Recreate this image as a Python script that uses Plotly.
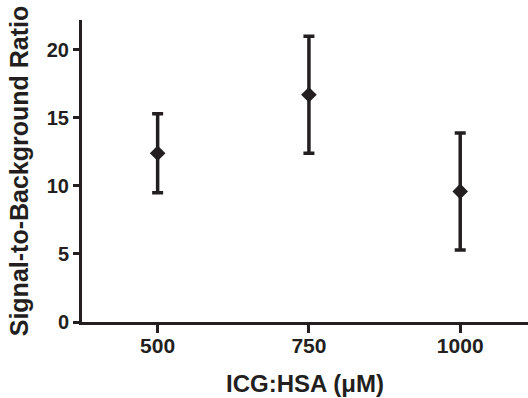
import plotly.graph_objects as go

concentrations = [500, 750, 1000]
sbr_mean = [12.4, 16.7, 9.6]
sbr_err = [2.9, 4.3, 4.3]
x_ticks = [500, 750, 1000]
y_ticks = [0, 5, 10, 15, 20]

ink = "#231f20"
font_family = "Liberation Sans, Arial, Helvetica, sans-serif"

fig = go.Figure(
    go.Scatter(
        x=concentrations,
        y=sbr_mean,
        mode="markers",
        marker=dict(symbol="diamond", size=12, color=ink),
        error_y=dict(type="data", array=sbr_err, visible=True,
                     color=ink, thickness=3.5, width=5.5),
        showlegend=False,
        hoverinfo="skip",
    )
)

fig.update_layout(
    width=528, height=398,
    margin=dict(l=82, r=0, t=20, b=76, autoexpand=False),
    paper_bgcolor="white", plot_bgcolor="white",
    font=dict(family=font_family, color=ink),
    xaxis=dict(
        range=[375, 1112], tickvals=x_ticks, ticktext=[str(v) for v in x_ticks],
        showgrid=False, zeroline=False, automargin=False,
        showline=True, linecolor=ink, linewidth=3,
        ticks="outside", ticklen=8, tickwidth=3, tickcolor=ink,
        ticklabelstandoff=-5,
        tickfont=dict(size=21, family=font_family, color=ink, weight="bold"),
        title=dict(text="<b>ICG:HSA (μM)</b>", font=dict(size=24, color=ink), standoff=19),
    ),
    yaxis=dict(
        range=[0, 22.2], tickvals=y_ticks,
        showgrid=False, zeroline=False, automargin=False,
        showline=True, linecolor=ink, linewidth=3,
        ticks="outside", ticklen=6, tickwidth=3, tickcolor=ink,
        tickfont=dict(size=20, family=font_family, color=ink, weight="bold"),
        title=dict(text="<b>Signal-to-Background Ratio</b>", font=dict(size=25, color=ink), standoff=12),
    ),
)

fig.write_html("out.html", config={"displayModeBar": False},
               post_script="document.body.style.margin='0';")
